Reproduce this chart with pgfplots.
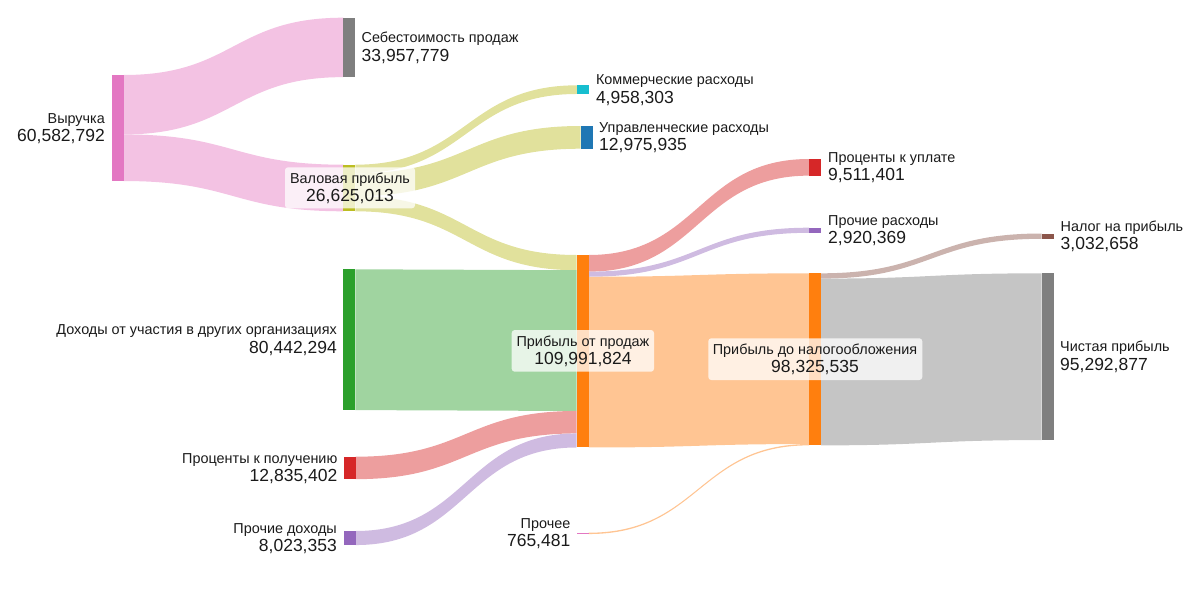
\documentclass[border=0pt]{standalone}
\usepackage{pgfplots}
\pgfplotsset{compat=1.18}
\usepackage{fontspec}
\setmainfont{Liberation Sans}
\definecolor{cpink}{HTML}{E377C2}
\definecolor{cgray}{HTML}{7F7F7F}
\definecolor{colive}{HTML}{BCBD22}
\definecolor{ccyan}{HTML}{17BECF}
\definecolor{cblue}{HTML}{1F77B4}
\definecolor{cgreen}{HTML}{2CA02C}
\definecolor{cred}{HTML}{D62728}
\definecolor{cpurple}{HTML}{9467BD}
\definecolor{corange}{HTML}{FF7F0E}
\definecolor{cbrown}{HTML}{8C564B}
\definecolor{txt}{HTML}{1A1A1A}
% scale: 1.75 px per million
\newcommand\flow[6]{% x0, y0 (top at source), x1, y1 (top at target), value (mln), colour
  \pgfmathsetmacro\xm{(#1+#3)/2}%
  \pgfmathsetmacro\yb{#2+1.75*#5}%
  \pgfmathsetmacro\yd{#4+1.75*#5}%
  \edef\doflow{\noexpand\fill[#6!45!white] (axis cs:#1,#2) .. controls (axis cs:\xm,#2) and (axis cs:\xm,#4) .. (axis cs:#3,#4) -- (axis cs:#3,\yd) .. controls (axis cs:\xm,\yd) and (axis cs:\xm,\yb) .. (axis cs:#1,\yb) -- cycle;}%
  \doflow}
\newcommand\nodebar[4]{% x, top, value (mln), colour
  \pgfmathsetmacro\xr{#1+12}%
  \pgfmathsetmacro\yb{#2+1.75*#3}%
  \edef\donode{\noexpand\addplot[fill=#4, draw=none] coordinates {(#1,#2) (\xr,#2) (\xr,\yb) (#1,\yb)} -- cycle;}%
  \donode}
\newcommand\nm{\fontsize{14.4}{16}\selectfont}
\newcommand\vl{\fontsize{17.5}{20}\selectfont}
\newcommand\lblR[4]{% x, centre y, name, value
  \node[anchor=base west, inner sep=0pt, text=txt, font=\nm] at (axis cs:#1,#2) [yshift=4.8pt] {#3};
  \node[anchor=base west, inner sep=0pt, text=txt, font=\vl] at (axis cs:#1,#2) [yshift=-13.6pt] {#4};}
\newcommand\lblL[4]{%
  \node[anchor=base east, inner sep=0pt, text=txt, font=\nm] at (axis cs:#1,#2) [yshift=4.8pt] {#3};
  \node[anchor=base east, inner sep=0pt, text=txt, font=\vl] at (axis cs:#1,#2) [yshift=-13.6pt] {#4};}
\newcommand\lblC[4]{%
  \node[anchor=base, inner sep=0pt, text=txt, font=\nm] at (axis cs:#1,#2) [yshift=4.8pt] {#3};
  \node[anchor=base, inner sep=0pt, text=txt, font=\vl] at (axis cs:#1,#2) [yshift=-13.6pt] {#4};}
\begin{document}
\begin{tikzpicture}
\begin{axis}[
  scale only axis, width=1200pt, height=600pt,
  xmin=0, xmax=1200, ymin=0, ymax=600, y dir=reverse,
  hide axis, clip=false]
% ---- flows: x0, y0, x1, y1, value (mln), colour
\flow{123.7}{75}{343.3}{17.7}{33.957779}{cpink}
\flow{123.7}{134.43}{343.3}{164.7}{26.625013}{cpink}
\flow{355.3}{164.7}{577.3}{85.3}{4.958303}{colive}
\flow{355.3}{173.38}{580.7}{126}{12.975935}{colive}
\flow{355.3}{196.08}{576.7}{255}{8.690775}{colive}
\flow{355.3}{269.3}{576.7}{270.21}{80.442294}{cgreen}
\flow{355.7}{456.7}{576.7}{410.98}{12.835402}{cred}
\flow{355.7}{531}{576.7}{433.44}{8.023353}{cpurple}
\flow{588.7}{255}{809}{159}{9.511401}{cred}
\flow{588.7}{271.64}{809}{227.7}{2.920369}{cpurple}
\flow{588.7}{276.76}{809}{273.3}{97.560054}{corange}
\flow{588.7}{532.7}{809}{444.03}{0.765481}{corange}
\flow{821}{273.3}{1041.5}{233.5}{3.032658}{cbrown}
\flow{821}{278.61}{1041.5}{273.3}{95.292877}{cgray}
% ---- nodes: x, top, value (mln), colour
\nodebar{111.7}{75}{60.582792}{cpink}
\nodebar{343.3}{17.7}{33.957779}{cgray}
\nodebar{343.3}{164.7}{26.625013}{colive}
\nodebar{577.3}{85.3}{4.958303}{ccyan}
\nodebar{580.7}{126}{12.975935}{cblue}
\nodebar{343.3}{269.3}{80.442294}{cgreen}
\nodebar{343.7}{456.7}{12.835402}{cred}
\nodebar{343.7}{531}{8.023353}{cpurple}
\nodebar{576.7}{532.7}{0.765481}{cpink}
\nodebar{576.7}{255}{109.991824}{corange}
\nodebar{809}{159}{9.511401}{cred}
\nodebar{809}{227.7}{2.920369}{cpurple}
\nodebar{809}{273.3}{98.325535}{corange}
\nodebar{1041.5}{233.5}{3.032658}{cbrown}
\nodebar{1041.5}{273.3}{95.292877}{cgray}
% ---- label boxes
\fill[white, fill opacity=0.75, rounded corners=3pt] (axis cs:285,167.3) rectangle (axis cs:415,208.3);
\fill[white, fill opacity=0.75, rounded corners=3pt] (axis cs:511.7,330) rectangle (axis cs:654,371.7);
\fill[white, fill opacity=0.75, rounded corners=3pt] (axis cs:708.3,338.3) rectangle (axis cs:922.3,380);
% ---- labels
\lblL{105}{128}{Выручка}{60,582,792}
\lblR{361.5}{47.4}{Себестоимость продаж}{33,957,779}
\lblC{350}{188}{Валовая прибыль}{26,625,013}
\lblR{595.8}{89.65}{Коммерческие расходы}{4,958,303}
\lblR{599}{137.35}{Управленческие расходы}{12,975,935}
\lblL{337}{339.7}{Доходы от участия в других организациях}{80,442,294}
\lblL{337.5}{468}{Проценты к получению}{12,835,402}
\lblL{337}{538}{Прочие доходы}{8,023,353}
\lblL{570.5}{533.35}{Прочее}{765,481}
\lblC{583}{351.25}{Прибыль от продаж}{109,991,824}
\lblR{828}{167.3}{Проценты к уплате}{9,511,401}
\lblR{828}{230.25}{Прочие расходы}{2,920,369}
\lblC{815}{359.35}{Прибыль до налогообложения}{98,325,535}
\lblR{1060.5}{236.15}{Налог на прибыль}{3,032,658}
\lblR{1060}{356.7}{Чистая прибыль}{95,292,877}
\end{axis}
\pgfresetboundingbox
\useasboundingbox (0,0) rectangle (1200pt,600pt);
\end{tikzpicture}
\end{document}
